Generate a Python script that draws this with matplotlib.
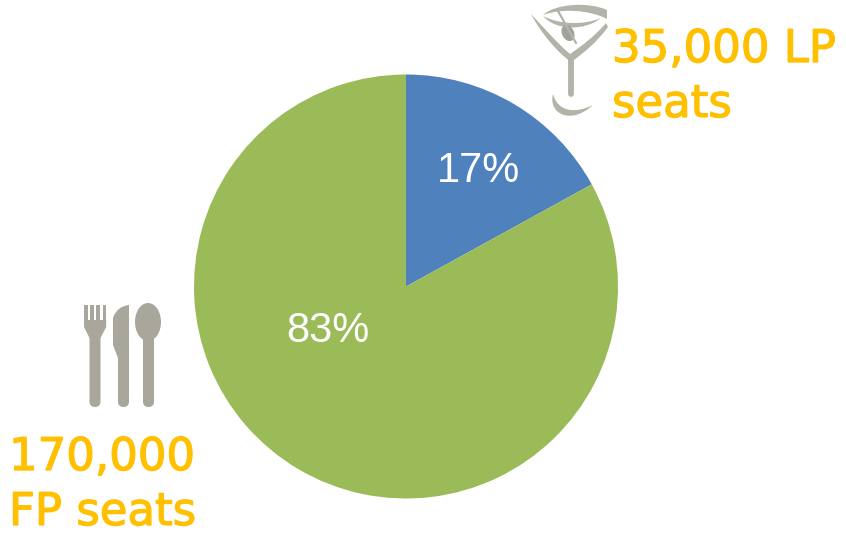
import matplotlib
matplotlib.use("Agg")
import matplotlib.pyplot as plt
import matplotlib.patheffects as pe
from matplotlib.patches import Ellipse, FancyBboxPatch, PathPatch, Polygon
from matplotlib.path import Path

# --- data ---
categories = ["LP seats", "FP seats"]
shares = [17, 83]
pie_colors = ["#4F81BD", "#9BBB59"]
GOLD = "#FFC000"
GREY = "#A9A79C"
GLASS = "#B4B3AA"

W, H = 846, 533
fig = plt.figure(figsize=(W / 100, H / 100), dpi=100)
ax = fig.add_axes([0, 0, 1, 1])


def Y(y):
    # picture y (top down) to axes y
    return H - y


# --- pie ---
ax.pie(shares, colors=pie_colors, startangle=90, counterclock=False,
       center=(406, Y(286.5)), radius=212, frame=False,
       wedgeprops={"linewidth": 0})
ax.set_xlim(0, W)
ax.set_ylim(0, H)
ax.set_aspect("equal")
ax.axis("off")

pct_pos = [(478, 170.5), (328, 330.5)]
for s, (x, y) in zip(shares, pct_pos):
    ax.text(x, Y(y), f"{s}%", color="white", fontsize=30, family="Liberation Sans",
            ha="center", va="center")


# --- labels ---
def label(x, y, txt):
    t = ax.text(x, Y(y), txt, color=GOLD, fontsize=32.4, family="DejaVu Sans", ha="left",
                va="baseline")
    t.set_path_effects([pe.withStroke(linewidth=0.9, foreground=GOLD)])


label(612, 62, "35,000 LP")
label(612, 117, "seats")
label(9, 470, "170,000")
label(9, 525, "FP seats")


# --- cutlery icon ---
def bar(x0, y0, x1, y1, color=GREY):
    r = min(x1 - x0, y1 - y0) / 2
    ax.add_patch(FancyBboxPatch((x0 + r, Y(y1) + r), x1 - x0 - 2 * r, y1 - y0 - 2 * r,
                                boxstyle=f"round,pad={r}", fc=color, ec="none"))


def shape(pts, codes, color=GREY):
    ax.add_patch(PathPatch(Path([(x, Y(y)) for x, y in pts], codes), fc=color, ec="none"))


# fork
for x in (84, 90.2, 96.4, 102.6):
    ax.add_patch(Polygon([(x, Y(305)), (x + 3.6, Y(305)), (x + 3.6, Y(325)), (x, Y(325))],
                         fc=GREY, ec="none"))
ax.add_patch(Polygon([(84, Y(320)), (106.2, Y(320)), (106.2, Y(327)), (100.5, Y(338)),
                      (89.5, Y(338)), (84, Y(327))], fc=GREY, ec="none"))
bar(89.5, 330, 100.5, 407)
# knife
bar(118, 345, 129, 407)
shape([(129, 305), (117, 306), (113, 318), (113, 330), (113, 345), (118, 358), (129, 358), (129, 305)],
      [Path.MOVETO, Path.CURVE3, Path.CURVE3, Path.LINETO, Path.LINETO, Path.LINETO, Path.LINETO, Path.CLOSEPOLY])
# spoon
ax.add_patch(Ellipse((148, Y(322)), 26, 38, fc=GREY, ec="none"))
bar(143, 330, 154, 407)

# --- cocktail glass icon ---
C4 = Path.CURVE4
M = Path.MOVETO
L = Path.LINETO
# left and right arm of the bowl
shape([(531, 14), (545, 29), (558, 44), (570, 54), (583, 45), (595, 36), (606, 23),
       (608, 27), (597, 42), (584, 53), (571, 62), (557, 52), (541, 33), (531, 14)],
      [M, C4, C4, C4, C4, C4, C4, L, C4, C4, C4, C4, C4, C4], GLASS)
# rim, upper and lower crescent
shape([(543, 15), (556, 3), (590, 2), (607, 10), (607, 14), (607, 17), (607, 19),
       (590, 10), (562, 8), (543, 15)],
      [M, C4, C4, C4, L, L, L, C4, C4, C4], GLASS)
shape([(543, 16), (556, 31), (585, 31), (601, 18), (585, 25), (560, 25), (543, 16)],
      [M, C4, C4, C4, C4, C4, C4], GLASS)
# pick and olive
ax.plot([558, 576], [Y(11), Y(43)], color=GLASS, lw=1.6, solid_capstyle="round")
ax.add_patch(Ellipse((568, Y(33)), 12, 17, angle=25, fc="#A3A298", ec="none"))
# stem
ax.plot([571, 571], [Y(59), Y(94)], color=GLASS, lw=4.2, solid_capstyle="round")
# foot
shape([(553, 94), (548, 113), (570, 126), (593, 105), (575, 114), (558, 112), (553, 94)],
      [M, C4, C4, C4, C4, C4, C4], GLASS)

fig.savefig("out.png", dpi=100, facecolor="white")
